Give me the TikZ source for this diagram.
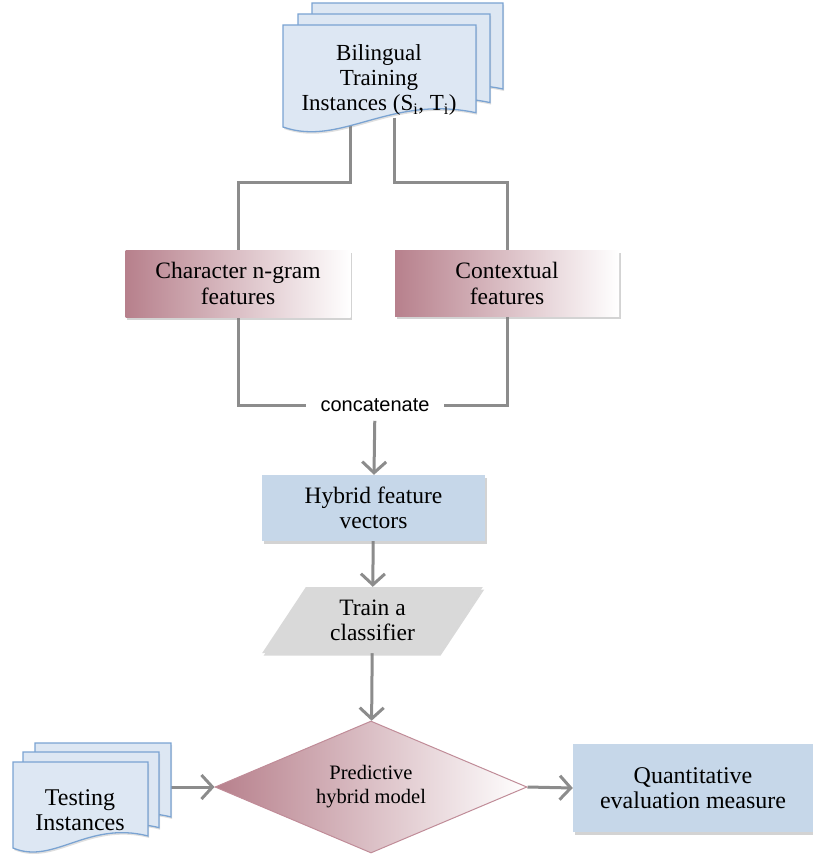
\documentclass[tikz,border=0pt]{standalone}
\usepackage{fontspec}
\setmainfont{Liberation Serif}
\setsansfont{Liberation Sans}
\usetikzlibrary{positioning,arrows.meta,shapes.geometric,shadows,backgrounds,calc}

\definecolor{rosebox}{RGB}{183,128,140}
\definecolor{roseedge}{RGB}{192,140,152}
\definecolor{bluebox}{RGB}{198,215,233}
\definecolor{docfill}{RGB}{221,231,243}
\definecolor{docedge}{RGB}{122,163,210}
\definecolor{greybox}{RGB}{217,217,217}
\definecolor{linkgrey}{RGB}{140,140,140}

% one sheet of a document stack: x0, y0, width, left height
\newcommand{\docsheet}[4]{%
  \path[docshape] (#1,#2) -- ({#1+#3},#2) -- ({#1+#3},{#2+0.86*#4})
    .. controls ({#1+0.55*#3},{#2+0.68*#4}) and ({#1+0.3*#3},{#2+1.2*#4}) .. (#1,{#2+#4}) -- cycle;}

\begin{document}
\begin{tikzpicture}[x=1pt,y=-1pt,
  docshape/.style={fill=docfill,draw=docedge,line width=1.3pt,drop shadow={shadow xshift=1pt,shadow yshift=-2pt,opacity=0.25}},
  doctext/.style={align=center,font=\fontsize{23}{25}\selectfont,inner sep=2pt},
  featbox/.style={rectangle,left color=rosebox,right color=white,align=center,inner sep=4pt,
    font=\fontsize{23.5}{26}\selectfont,drop shadow={shadow xshift=1.5pt,shadow yshift=-2.5pt,opacity=0.35}},
  bluebox/.style={rectangle,fill=bluebox,align=center,inner sep=4pt,
    font=\fontsize{23.5}{25}\selectfont,drop shadow={shadow xshift=1.5pt,shadow yshift=-2.5pt,opacity=0.35}},
  link/.style={draw=linkgrey,line width=3pt},
  arr/.style={link,-{Straight Barb[length=11pt,width=24pt]}},
]
\useasboundingbox (0,0) rectangle (813,864);

% === training documents ===
\docsheet{312}{3}{191}{100}
\docsheet{298}{14}{192}{103}
\docsheet{283}{25}{193}{102}
\node[doctext] (bil) at (379,80) {Bilingual\\Training\\Instances (S\textsubscript{i}, T\textsubscript{i})};

% === feature extraction ===
\node[featbox,minimum width=225pt,minimum height=67pt] (char) at (238,283.5) {Character n-gram\\features};
\node[featbox,minimum width=224pt,minimum height=66pt] (ctx) at (507,283) {Contextual\\features};
\node[font=\sffamily\fontsize{20}{22}\selectfont,inner xsep=14pt,inner ysep=9pt] (cat) at (375,405) {concatenate};

\coordinate (forkL) at (238,182);
\coordinate (forkR) at (507,182);

% === learning ===
\node[bluebox,minimum width=223pt,minimum height=66pt] (hyb) at (373.5,508) {Hybrid feature\\vectors};
\node[trapezium,trapezium left angle=57,trapezium right angle=123,trapezium stretches=true,
  fill=greybox,align=center,inner sep=2pt,minimum width=221pt,minimum height=66pt,
  font=\fontsize{23.5}{25}\selectfont,drop shadow={shadow xshift=1.5pt,shadow yshift=-2.5pt,opacity=0.3}] (train) at (372.5,620) {Train a\\classifier};

% === prediction ===
\node[diamond,aspect=2.36,left color=rosebox,right color=white,draw=roseedge,line width=1pt,inner sep=0pt,
  minimum width=312pt,minimum height=132pt,align=center,font=\fontsize{20.5}{24}\selectfont] (dia) at (371,787) {Predictive\\hybrid model};

\docsheet{35}{743}{136}{86}
\docsheet{23}{752}{136}{88}
\docsheet{13}{762}{135}{86}
\node[doctext,font=\fontsize{24}{25}\selectfont] (test) at (80,810) {Testing\\Instances};

\node[bluebox,minimum width=240pt,minimum height=88pt,font=\fontsize{24}{25}\selectfont] (quant) at (693,788) {Quantitative\\evaluation measure};

% connectors
\begin{scope}[on background layer]
\draw[link] (bil.south -| char.east) |- (forkL) -- (char.north);
\draw[link] (bil.south -| ctx.west) |- (forkR) -- (ctx.north);
\draw[link] (char.south) |- (cat.west);
\draw[link] (ctx.south) |- (cat.east);
\draw[arr] (cat) -- (hyb);
\draw[arr] (hyb) -- (train);
\draw[arr] (train) -- (dia);
\draw[arr] (dia.west -| test.east) -- (dia.west);
\draw[arr] (dia.east) -- (quant.west);
\end{scope}

\end{tikzpicture}
\end{document}
